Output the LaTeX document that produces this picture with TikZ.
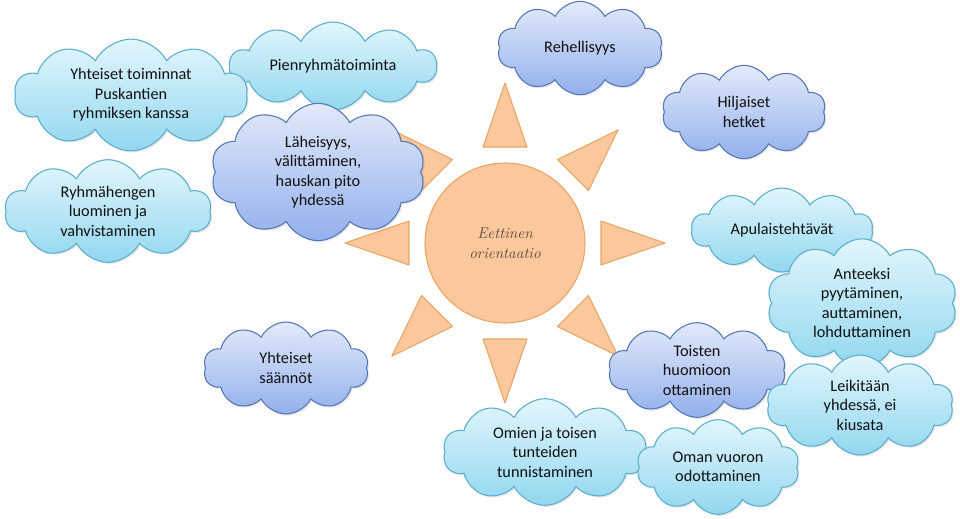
\documentclass[tikz,border=0pt]{standalone}
\usepackage{fontspec}
\setmainfont{Carlito}
\newfontfamily\sunfont{Latin Modern Roman}
\usepackage{xcolor}
\definecolor{skyT}{HTML}{E2F6FC}
\definecolor{skyB}{HTML}{92D7F0}
\definecolor{skyE}{HTML}{5AAECB}
\definecolor{bluT}{HTML}{E2EAFA}
\definecolor{bluB}{HTML}{93B0EC}
\definecolor{bluE}{HTML}{5577B5}
\definecolor{peach}{HTML}{FAC89C}
\definecolor{peachE}{HTML}{E9A566}
\definecolor{ink}{HTML}{111111}
\definecolor{sunink}{HTML}{5A4636}
\usetikzlibrary{shapes.symbols,shadows}

\begin{document}
\begin{tikzpicture}[
  x=0.75pt,y=-0.75pt,
  font=\fontsize{12.2}{14.6}\selectfont,
  cl/.style={cloud,cloud puffs=10,cloud puff arc=125,cloud ignores aspect,
    line width=0.8pt,align=center,text=ink,inner sep=2pt,
    drop shadow={opacity=0.18,shadow xshift=1.2pt,shadow yshift=-1.2pt}},
  sky/.style={cl,draw=skyE,top color=skyT,bottom color=skyB},
  blu/.style={cl,draw=bluE,top color=bluT,bottom color=bluB},
  ray/.style={draw=peachE,fill=peach,line width=0.8pt,line join=round},
]
\useasboundingbox (0,0) rectangle (960,518);

% sun
\node[circle,draw=peachE,fill=peach,line width=0.8pt,minimum size=120pt,
  font=\sunfont\itshape\fontsize{11.5}{15}\selectfont,text=sunink,align=center]
  (sun) at (505,243) {Eettinen\\orientaatio};
\foreach \a in {0,45,...,315}
  \draw[ray,shift={(sun.center)},rotate=\a] (96,22) -- (160,0) -- (96,-22) -- cycle;

% left group
\node[sky,minimum width=155pt,minimum height=66pt] (pien)  at (333,66)  {Pienryhmätoiminta};
\node[sky,minimum width=175pt,minimum height=81pt] (puska) at (131,95)  {Yhteiset toiminnat\\Puskantien\\ryhmiksen kanssa};
\node[sky,minimum width=155pt,minimum height=77pt] (henki) at (108,211) {Ryhmähengen\\luominen ja\\vahvistaminen};
\node[blu,minimum width=161pt,minimum height=103pt] (lahe) at (318,172) {Läheisyys,\\välittäminen,\\hauskan pito\\yhdessä};
\node[blu,minimum width=124pt,minimum height=69pt] (saan)  at (286,368) {Yhteiset\\säännöt};

% top right
\node[blu,minimum width=124pt,minimum height=70pt] (rehel) at (580,48)  {Rehellisyys};
\node[blu,minimum width=123pt,minimum height=70pt] (hilj)  at (744,112) {Hiljaiset\\hetket};

% right group
\node[sky,minimum width=136pt,minimum height=63pt] (apu)   at (782,230) {Apulaistehtävät};
\node[sky,minimum width=143pt,minimum height=90pt] (antee) at (862,303) {Anteeksi\\pyytäminen,\\auttaminen,\\lohduttaminen};
\node[blu,minimum width=133pt,minimum height=71pt] (toist) at (697,370) {Toisten\\huomioon\\ottaminen};
\node[sky,minimum width=140pt,minimum height=75pt] (leik)  at (860,405) {Leikitään\\yhdessä, ei\\kiusata};

% bottom
\node[sky,minimum width=153pt,minimum height=80pt] (omien) at (545,452) {Omien ja toisen\\tunteiden\\tunnistaminen};
\node[sky,minimum width=122pt,minimum height=71pt] (vuoro) at (718,467) {Oman vuoron\\odottaminen};
\end{tikzpicture}
\end{document}
